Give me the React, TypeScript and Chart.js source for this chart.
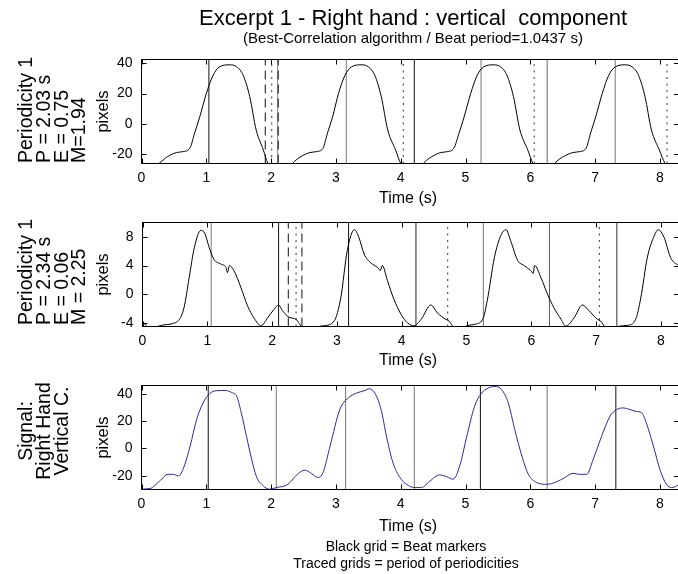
import React, { useEffect, useRef } from "react";
import { Chart, registerables } from "chart.js";

Chart.register(...registerables);

const FONT = "'Liberation Sans', Arial, Helvetica, sans-serif";

// ---------- data ----------
const xTicks = [0, 1, 2, 3, 4, 5, 6, 7, 8];

// Panel 1: Periodicity 1 (P = 2.03 s)
const p1Time = [0.0, 0.1, 0.27, 0.4, 0.54, 0.64, 0.745, 0.82, 0.9, 1.0, 1.105, 1.2, 1.36, 1.47, 1.57, 1.67, 1.77, 1.88, 1.95, 2.05, 2.15, 2.25, 2.33, 2.46, 2.6, 2.7, 2.8, 2.87, 2.95, 3.04, 3.14, 3.24, 3.39, 3.5, 3.6, 3.7, 3.8, 3.92, 4.0, 4.1, 4.2, 4.28, 4.35, 4.48, 4.62, 4.72, 4.82, 4.9, 4.98, 5.08, 5.18, 5.28, 5.43, 5.54, 5.64, 5.74, 5.84, 5.96, 6.04, 6.14, 6.24, 6.32, 6.38, 6.51, 6.66, 6.76, 6.86, 6.93, 7.01, 7.11, 7.21, 7.31, 7.46, 7.57, 7.67, 7.77, 7.87, 7.99, 8.08, 8.2, 8.3];
const p1Pixels = [-34, -31, -26, -21.5, -18.8, -18.2, -16, -6, 4.8, 20, 32, 37.5, 38.9, 37.6, 32, 18, -4, -17, -26, -31, -33, -31, -26, -21.5, -18.8, -18.2, -16, -6, 4.8, 20, 32, 37.5, 38.9, 37.6, 32, 18, -4, -17, -26, -31, -33, -31, -26, -21.5, -18.8, -18.2, -16, -6, 4.8, 20, 32, 37.5, 38.9, 37.6, 32, 18, -4, -17, -26, -31, -33, -31, -26, -21.5, -18.8, -18.2, -16, -6, 4.8, 20, 32, 37.5, 38.9, 37.6, 32, 18, -4, -17, -26, -31, -33];
const p1YTicks = [-20, 0, 20, 40];
const p1Beats = [1.04, 2.1, 3.16, 4.21, 5.24, 6.26, 7.31];
const p1BeatColors = ["#111", "#888", "#777", "#111", "#777", "#666", "#777"];
const p1Dashed = [1.91, 2.11];
const p1Dotted = [2.01, 4.04, 6.06, 8.11];
const p1Label = ["Periodicity 1", "P = 2.03 s", "E = 0.75", "M=1.94"];

// Panel 2: Periodicity 1 (P = 2.34 s)
const p2Time = [0.0, 0.03, 0.08, 0.18, 0.31, 0.46, 0.57, 0.64, 0.72, 0.8, 0.9, 0.96, 1.03, 1.1, 1.21, 1.29, 1.31, 1.34, 1.41, 1.52, 1.62, 1.72, 1.83, 1.93, 2.03, 2.1, 2.16, 2.26, 2.37, 2.42, 2.47, 2.55, 2.65, 2.8, 2.96, 3.06, 3.16, 3.27, 3.34, 3.42, 3.52, 3.63, 3.67, 3.7, 3.78, 3.88, 3.99, 4.09, 4.19, 4.3, 4.45, 4.55, 4.68, 4.73, 4.81, 4.9, 4.99, 5.12, 5.25, 5.32, 5.43, 5.53, 5.61, 5.68, 5.79, 5.89, 5.99, 6.03, 6.05, 6.15, 6.25, 6.35, 6.46, 6.53, 6.66, 6.79, 6.89, 7.02, 7.07, 7.15, 7.25, 7.36, 7.48, 7.61, 7.69, 7.79, 7.9, 7.96, 8.05, 8.15, 8.27, 8.35];
const p2Pixels = [-4.7, -4.1, -4.7, -4.6, -4.3, -4.1, -3.5, -1.9, 2.3, 6.5, 8.9, 8.5, 6.5, 4.9, 4.2, 3.7, 3.0, 4.0, 3.3, 0.9, -1.6, -3.3, -4.4, -3.3, -2.1, -1.5, -2.3, -3.2, -3.5, -4.1, -4.7, -5.0, -4.6, -4.4, -3.7, -0.5, 6.1, 9.0, 7.9, 5.6, 4.4, 3.7, 3.3, 4.0, 1.9, -0.7, -2.8, -4.0, -4.4, -3.5, -1.5, -2.6, -3.5, -3.75, -4.7, -5.0, -4.45, -4.2, -3.5, -0.9, 5.1, 8.2, 9.0, 7.5, 4.7, 4.0, 3.3, 2.9, 4.0, 2.3, 0.0, -1.9, -3.5, -4.45, -3.3, -1.5, -2.3, -3.5, -3.75, -4.7, -5.0, -4.45, -4.35, -3.5, -0.5, 5.1, 8.2, 9.0, 7.9, 5.1, 4.0, 3.5];
const p2YTicks = [-4, 0, 4, 8];
const p2Beats = [1.06, 2.1, 3.18, 4.22, 5.26, 6.28, 7.32];
const p2BeatColors = ["#777", "#111", "#111", "#222", "#777", "#555", "#333"];
const p2Dashed = [2.25, 2.46];
const p2Dotted = [2.37, 4.71, 7.05];
const p2Label = ["Periodicity 1", "P = 2.34 s", "E = 0.06", "M = 2.25"];

// Panel 3: Signal, right hand vertical component
const p3Time = [0.0, 0.02, 0.13, 0.28, 0.41, 0.49, 0.57, 0.64, 0.75, 0.85, 0.95, 1.05, 1.16, 1.29, 1.39, 1.47, 1.54, 1.62, 1.7, 1.77, 1.88, 1.98, 2.08, 2.26, 2.39, 2.52, 2.62, 2.73, 2.8, 2.91, 3.06, 3.19, 3.32, 3.45, 3.51, 3.6, 3.7, 3.78, 3.88, 3.99, 4.09, 4.22, 4.32, 4.45, 4.6, 4.71, 4.81, 4.91, 5.02, 5.14, 5.25, 5.35, 5.45, 5.56, 5.66, 5.76, 5.87, 5.97, 6.1, 6.25, 6.4, 6.53, 6.66, 6.76, 6.87, 6.97, 7.1, 7.23, 7.33, 7.43, 7.54, 7.63, 7.72, 7.79, 7.9, 8.0, 8.1, 8.18, 8.26, 8.35];
const p3Pixels = [-31, -29.8, -29.3, -23.8, -18.9, -18.9, -20.1, -15.3, 1.7, 21.1, 33.2, 40, 42.2, 42.4, 40.9, 38, 26, 8.9, -8, -20.1, -27.4, -29.8, -28.6, -26.2, -19.6, -15.8, -18.2, -21.3, -17.7, 1.7, 28.4, 36.9, 40.5, 42.4, 43.6, 40.5, 28, 8.9, -10.4, -21.3, -26.2, -28.6, -28.6, -23.8, -19.4, -20.6, -22.5, -12.9, 8.9, 30.8, 40.5, 44.1, 45.3, 42.9, 33.2, 13.8, -5.6, -18.9, -24.9, -26.2, -24.5, -21.3, -18.2, -18.9, -18.9, -8, 8.9, 23.5, 28.4, 29.6, 28.4, 27.1, 26, 18.7, 1.7, -15.3, -26.2, -28.6, -27.4, -24];
const p3YTicks = [-20, 0, 20, 40];
const p3Beats = [1.03, 2.08, 3.15, 4.21, 5.23, 6.26, 7.32];
const p3BeatColors = ["#111", "#777", "#777", "#777", "#111", "#777", "#111"];
const p3Dashed: number[] = [];
const p3Dotted: number[] = [];
const p3Label = ["Signal:", "Right Hand", "Vertical C."];

const titleText = "Excerpt 1 - Right hand : vertical  component";
const subtitleText = "(Best-Correlation algorithm / Beat period=1.0437 s)";
const xTitle = "Time (s)";
const yTitle = "pixels";
const footer = ["Black grid = Beat markers", "Traced grids = period of periodicities"];

// ---------- layout ----------
const CW = 692;
const CH = 574;
const PX_PER_S = 64.8;
const PLOT_RIGHT = 679;
const Y_AXIS_W = 50;
const X_AXIS_H = 30;

type PanelCfg = {
  left: number; top: number; bottom: number;
  yMin: number; yMax: number; yTicks: number[];
  time: number[]; values: number[]; color: string;
  beats: number[]; beatColors: string[]; dashed: number[]; dotted: number[];
  label: string[]; labelAlign: "left" | "center"; labelY: number; xTitleBase: number;
  extra?: (ctx: CanvasRenderingContext2D) => void;
};

function drawRotated(ctx: CanvasRenderingContext2D, text: string, x: number, y: number, align: CanvasTextAlign) {
  ctx.save();
  ctx.translate(x, y);
  ctx.rotate(-Math.PI / 2);
  ctx.textAlign = align;
  ctx.textBaseline = "alphabetic";
  ctx.fillText(text, 0, 0);
  ctx.restore();
}

const panels: PanelCfg[] = [
  {
    left: 141.5, top: 59.5, bottom: 163.5, yMin: -26, yMax: 42.4, yTicks: p1YTicks,
    time: p1Time, values: p1Pixels, color: "#000",
    beats: p1Beats, beatColors: p1BeatColors, dashed: p1Dashed, dotted: p1Dotted,
    label: p1Label, labelAlign: "left", labelY: 163, xTitleBase: 203,
    extra: (ctx) => {
      ctx.fillStyle = "#000";
      ctx.textAlign = "center";
      ctx.textBaseline = "alphabetic";
      ctx.font = `22px ${FONT}`;
      ctx.fillText(titleText, 413, 25);
      ctx.font = `15px ${FONT}`;
      ctx.fillText(subtitleText, 413, 43);
    },
  },
  {
    left: 142.5, top: 222.5, bottom: 326.5, yMin: -4.5, yMax: 10, yTicks: p2YTicks,
    time: p2Time, values: p2Pixels, color: "#000",
    beats: p2Beats, beatColors: p2BeatColors, dashed: p2Dashed, dotted: p2Dotted,
    label: p2Label, labelAlign: "left", labelY: 325, xTitleBase: 365,
  },
  {
    left: 141.5, top: 385.5, bottom: 489.5, yMin: -30, yMax: 46, yTicks: p3YTicks,
    time: p3Time, values: p3Pixels, color: "#2b2b96",
    beats: p3Beats, beatColors: p3BeatColors, dashed: p3Dashed, dotted: p3Dotted,
    label: p3Label, labelAlign: "center", labelY: 431, xTitleBase: 531,
    extra: (ctx) => {
      ctx.fillStyle = "#000";
      ctx.textAlign = "center";
      ctx.textBaseline = "alphabetic";
      ctx.font = `14px ${FONT}`;
      ctx.fillText(footer[0], 406, 551);
      ctx.fillText(footer[1], 406, 568);
    },
  },
];

function vline(t: number, yMin: number, yMax: number, color: string, dash: number[], width: number) {
  return {
    data: [{ x: t, y: yMin }, { x: t, y: yMax }],
    borderColor: color,
    borderWidth: width,
    borderDash: dash,
    pointRadius: 0,
    tension: 0,
    fill: false,
  };
}

function Panel({ cfg }: { cfg: PanelCfg }) {
  const ref = useRef<HTMLCanvasElement>(null);
  useEffect(() => {
    const canvas = ref.current!;
    const xMax = (PLOT_RIGHT - cfg.left) / PX_PER_S;
    const curve = {
      data: cfg.time.map((t, i) => ({ x: t, y: cfg.values[i] })),
      borderColor: cfg.color,
      borderWidth: 1,
      pointRadius: 0,
      cubicInterpolationMode: "monotone" as const,
      fill: false,
    };
    const datasets: any[] = [curve];
    cfg.dashed.forEach((t) => datasets.push(vline(t, cfg.yMin, cfg.yMax, "#111", [9, 5], 1)));
    cfg.dotted.forEach((t) => datasets.push(vline(t, cfg.yMin, cfg.yMax, "#333", [2, 4.5], 1)));
    cfg.beats.forEach((t, i) => datasets.push(vline(t, cfg.yMin, cfg.yMax, cfg.beatColors[i], [], 1)));

    const frame = {
      id: "frame",
      afterDatasetsDraw(chart: any) {
        const ctx = chart.ctx as CanvasRenderingContext2D;
        const a = chart.chartArea;
        const xs = chart.scales.x;
        const ys = chart.scales.y;
        ctx.save();
        ctx.strokeStyle = "#000";
        ctx.lineWidth = 1;
        ctx.setLineDash([]);
        ctx.strokeRect(a.left, a.top, a.right - a.left, a.bottom - a.top);
        const TL = 5;
        ctx.beginPath();
        xs.ticks.forEach((tk: any) => {
          const px = Math.round(xs.getPixelForValue(tk.value)) + 0.5;
          ctx.moveTo(px, a.bottom); ctx.lineTo(px, a.bottom - TL);
          ctx.moveTo(px, a.top); ctx.lineTo(px, a.top + TL);
        });
        ys.ticks.forEach((tk: any) => {
          const py = Math.round(ys.getPixelForValue(tk.value)) + 0.5;
          ctx.moveTo(a.left, py); ctx.lineTo(a.left + TL, py);
          ctx.moveTo(a.right, py); ctx.lineTo(a.right - TL, py);
        });
        ctx.stroke();
        ctx.restore();
      },
      afterDraw(chart: any) {
        const ctx = chart.ctx as CanvasRenderingContext2D;
        const a = chart.chartArea;
        ctx.save();
        ctx.fillStyle = "#000";
        ctx.font = `19.5px ${FONT}`;
        const bases = [32, 50, 67.5, 85];
        cfg.label.forEach((s, i) => drawRotated(ctx, s, bases[i], cfg.labelY, cfg.labelAlign));
        ctx.font = `16.5px ${FONT}`;
        drawRotated(ctx, yTitle, 108, (a.top + a.bottom) / 2, "center");
        ctx.font = `16px ${FONT}`;
        ctx.textAlign = "center";
        ctx.textBaseline = "alphabetic";
        ctx.fillText(xTitle, 408, cfg.xTitleBase);
        if (cfg.extra) cfg.extra(ctx);
        ctx.restore();
      },
    };

    const chart = new Chart(canvas, {
      type: "line",
      data: { datasets },
      options: {
        responsive: false,
        devicePixelRatio: 1,
        animation: false,
        events: [],
        layout: {
          padding: {
            left: cfg.left - Y_AXIS_W,
            top: cfg.top,
            right: CW - PLOT_RIGHT,
            bottom: CH - cfg.bottom - X_AXIS_H,
          },
        },
        plugins: { legend: { display: false }, tooltip: { enabled: false }, title: { display: false } },
        scales: {
          x: {
            type: "linear",
            min: 0,
            max: xMax,
            grid: { display: false, drawTicks: false },
            border: { display: false },
            afterBuildTicks: (s: any) => { s.ticks = xTicks.map((v) => ({ value: v })); },
            afterFit: (s: any) => { s.height = X_AXIS_H; },
            ticks: {
              color: "#000",
              font: { size: 14, family: FONT },
              padding: 6,
              maxRotation: 0,
              autoSkip: false,
              callback: (v: any) => String(v),
            },
          },
          y: {
            type: "linear",
            min: cfg.yMin,
            max: cfg.yMax,
            grid: { display: false, drawTicks: false },
            border: { display: false },
            afterBuildTicks: (s: any) => { s.ticks = cfg.yTicks.map((v) => ({ value: v })); },
            afterFit: (s: any) => { s.width = Y_AXIS_W; },
            ticks: {
              color: "#000",
              font: { size: 14, family: FONT },
              padding: 9,
              autoSkip: false,
              callback: (v: any) => String(v),
            },
          },
        },
      },
      plugins: [frame],
    } as any);
    return () => chart.destroy();
  }, [cfg]);
  return (
    <canvas
      ref={ref}
      width={CW}
      height={CH}
      style={{ position: "absolute", left: 0, top: 0, width: CW, height: CH }}
    />
  );
}

export default function App() {
  return (
    <div
      style={{
        position: "absolute",
        left: 0,
        top: 0,
        width: 678,
        height: 574,
        overflow: "hidden",
        background: "#fff",
      }}
    >
      {panels.map((p, i) => (
        <Panel key={i} cfg={p} />
      ))}
    </div>
  );
}
